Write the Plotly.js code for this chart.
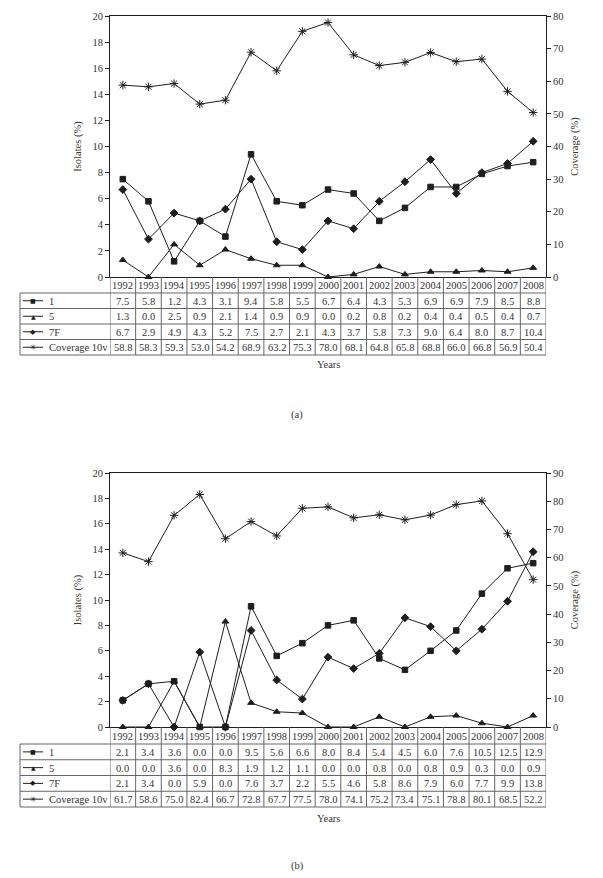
<!DOCTYPE html>
<html>
<head>
<meta charset="utf-8">
<script src="https://cdn.plot.ly/plotly-3.0.1.min.js"></script>
<style>
  body { margin: 0; background: #fff; }
  #chart { width: 603px; height: 878px; }
</style>
</head>
<body>
<div id="chart"></div>
<script>
const years = ['1992', '1993', '1994', '1995', '1996', '1997', '1998', '1999', '2000',
  '2001', '2002', '2003', '2004', '2005', '2006', '2007', '2008'];
const seriesNames = ['1', '5', '7F', 'Coverage 10v'];

// panel (a)
const a1 = [7.5, 5.8, 1.2, 4.3, 3.1, 9.4, 5.8, 5.5, 6.7, 6.4, 4.3, 5.3, 6.9, 6.9, 7.9, 8.5, 8.8];
const a5 = [1.3, 0.0, 2.5, 0.9, 2.1, 1.4, 0.9, 0.9, 0.0, 0.2, 0.8, 0.2, 0.4, 0.4, 0.5, 0.4, 0.7];
const a7F = [6.7, 2.9, 4.9, 4.3, 5.2, 7.5, 2.7, 2.1, 4.3, 3.7, 5.8, 7.3, 9.0, 6.4, 8.0, 8.7, 10.4];
const aCoverage = [58.8, 58.3, 59.3, 53.0, 54.2, 68.9, 63.2, 75.3, 78.0, 68.1, 64.8, 65.8, 68.8, 66.0, 66.8, 56.9, 50.4];

// panel (b)
const b1 = [2.1, 3.4, 3.6, 0.0, 0.0, 9.5, 5.6, 6.6, 8.0, 8.4, 5.4, 4.5, 6.0, 7.6, 10.5, 12.5, 12.9];
const b5 = [0.0, 0.0, 3.6, 0.0, 8.3, 1.9, 1.2, 1.1, 0.0, 0.0, 0.8, 0.0, 0.8, 0.9, 0.3, 0.0, 0.9];
const b7F = [2.1, 3.4, 0.0, 5.9, 0.0, 7.6, 3.7, 2.2, 5.5, 4.6, 5.8, 8.6, 7.9, 6.0, 7.7, 9.9, 13.8];
const bCoverage = [61.7, 58.6, 75.0, 82.4, 66.7, 72.8, 67.7, 77.5, 78.0, 74.1, 75.2, 73.4, 75.1, 78.8, 80.1, 68.5, 52.2];

const W = 603, H = 878;
const fx = v => v / W;
const fy = v => 1 - v / H;

const ink = '#1e1e1e';
const gridInk = '#666';
const textInk = '#333';
const serif = 'Liberation Serif, Times New Roman, serif';
const fs = 10.5;

const symbols = ['square', 'triangle-up', 'diamond', 'asterisk-open'];
const sizes = [5.5, 6, 6, 7];
const keyChars = ['\u25A0', '\u25B2', '\u25C6', '\u2733'];
const keySizes = [6, 6, 7, 8];

const panels = [
  { xa: 'x', ya: 'y', yc: 'y2', data: [a1, a5, a7F, aCoverage], covMax: 80,
    top: 16, bottom: 277, tableTop: 293, rowH: 15.5, yearsY: 364, tag: '(a)', tagY: 415 },
  { xa: 'x2', ya: 'y3', yc: 'y4', data: [b1, b5, b7F, bCoverage], covMax: 90,
    top: 473, bottom: 727, tableTop: 744, rowH: 15.75, yearsY: 818, tag: '(b)', tagY: 866 }
];

const plotLeft = 110, plotRight = 546, tableLeft = 20;

const traces = [];
const shapes = [];
const annotations = [];

function label(xref, x, y, text, extra) {
  return Object.assign({
    xref: xref, yref: 'paper', x: x, y: fy(y), text: text,
    xanchor: 'center', yanchor: 'middle', showarrow: false,
    font: { size: fs, color: textInk, family: serif }
  }, extra || {});
}

panels.forEach(p => {
  p.data.forEach((vals, k) => {
    traces.push({
      x: years,
      y: vals,
      name: seriesNames[k],
      type: 'scatter',
      mode: 'lines+markers',
      xaxis: p.xa,
      yaxis: k === 3 ? p.yc : p.ya,
      line: { color: ink, width: 1 },
      marker: { symbol: symbols[k], size: sizes[k], color: ink, line: { color: ink, width: 1 } },
      cliponaxis: false,
      showlegend: false,
      hoverinfo: 'x+y+name'
    });
  });

  const tableBottom = p.tableTop + p.rowH * 4;
  const xref = p.xa;

  // year header + column separators
  years.forEach((yr, i) => {
    annotations.push(label(xref, i, (p.bottom + p.tableTop) / 2 + 0.5, yr));
  });
  for (let i = 0; i <= years.length; i++) {
    shapes.push({
      type: 'line', xref: xref, yref: 'paper',
      x0: i - 0.5, x1: i - 0.5, y0: fy(p.bottom), y1: fy(tableBottom),
      line: { color: gridInk, width: 1 }
    });
  }

  // table rows
  for (let r = 0; r <= 4; r++) {
    shapes.push({
      type: 'line', xref: 'paper', yref: 'paper',
      x0: fx(tableLeft), x1: fx(plotRight), y0: fy(p.tableTop + r * p.rowH), y1: fy(p.tableTop + r * p.rowH),
      line: { color: gridInk, width: 1 }
    });
  }
  shapes.push({
    type: 'line', xref: 'paper', yref: 'paper',
    x0: fx(tableLeft), x1: fx(tableLeft), y0: fy(p.tableTop), y1: fy(tableBottom),
    line: { color: gridInk, width: 1 }
  });

  p.data.forEach((vals, k) => {
    const cy = p.tableTop + p.rowH * (k + 0.5);
    // legend key
    shapes.push({
      type: 'line', xref: 'paper', yref: 'paper',
      x0: fx(23), x1: fx(43), y0: fy(cy), y1: fy(cy),
      line: { color: ink, width: 1 }
    });
    annotations.push(label('paper', fx(33), cy, keyChars[k],
      { font: { size: keySizes[k], color: ink, family: 'DejaVu Sans' } }));
    annotations.push(label('paper', fx(47), cy + 0.5, seriesNames[k], { xanchor: 'left' }));
    vals.forEach((v, i) => {
      annotations.push(label(xref, i, cy + 0.5, v.toFixed(1)));
    });
  });

  annotations.push(label('paper', fx((plotLeft + plotRight) / 2), p.yearsY, 'Years'));
  annotations.push(label('paper', fx(297), p.tagY, p.tag));
});

function xAxis(p) {
  return {
    domain: [fx(plotLeft), fx(plotRight)],
    anchor: p.ya,
    type: 'category',
    range: [-0.5, years.length - 0.5],
    showline: true, mirror: true, linecolor: ink, linewidth: 1,
    showticklabels: false, ticks: '', showgrid: false, zeroline: false
  };
}

function leftAxis(p) {
  return {
    domain: [fy(p.bottom), fy(p.top)],
    anchor: p.xa,
    range: [0, 20], dtick: 2,
    ticks: 'outside', ticklen: 4, tickcolor: ink,
    showline: true, linecolor: ink, linewidth: 1,
    showgrid: false, zeroline: false,
    tickfont: { size: fs, color: textInk, family: serif },
    title: { text: 'Isolates (%)', font: { size: fs, color: textInk, family: serif }, standoff: 8 }
  };
}

function rightAxis(p) {
  return {
    overlaying: p.ya,
    anchor: p.xa,
    side: 'right',
    range: [0, p.covMax], dtick: 10,
    ticks: 'outside', ticklen: 4, tickcolor: ink,
    showline: true, linecolor: ink, linewidth: 1,
    showgrid: false, zeroline: false,
    tickfont: { size: fs, color: textInk, family: serif },
    title: { text: 'Coverage (%)', font: { size: fs, color: textInk, family: serif }, standoff: 8 }
  };
}

const layout = {
  width: W,
  height: H,
  margin: { t: 0, l: 0, r: 0, b: 0 },
  paper_bgcolor: '#fff',
  plot_bgcolor: '#fff',
  font: { family: serif, size: fs, color: textInk },
  showlegend: false,
  xaxis: xAxis(panels[0]),
  yaxis: leftAxis(panels[0]),
  yaxis2: rightAxis(panels[0]),
  xaxis2: xAxis(panels[1]),
  yaxis3: leftAxis(panels[1]),
  yaxis4: rightAxis(panels[1]),
  shapes: shapes,
  annotations: annotations
};

Plotly.newPlot('chart', traces, layout, { displayModeBar: false, staticPlot: true });
</script>
</body>
</html>
